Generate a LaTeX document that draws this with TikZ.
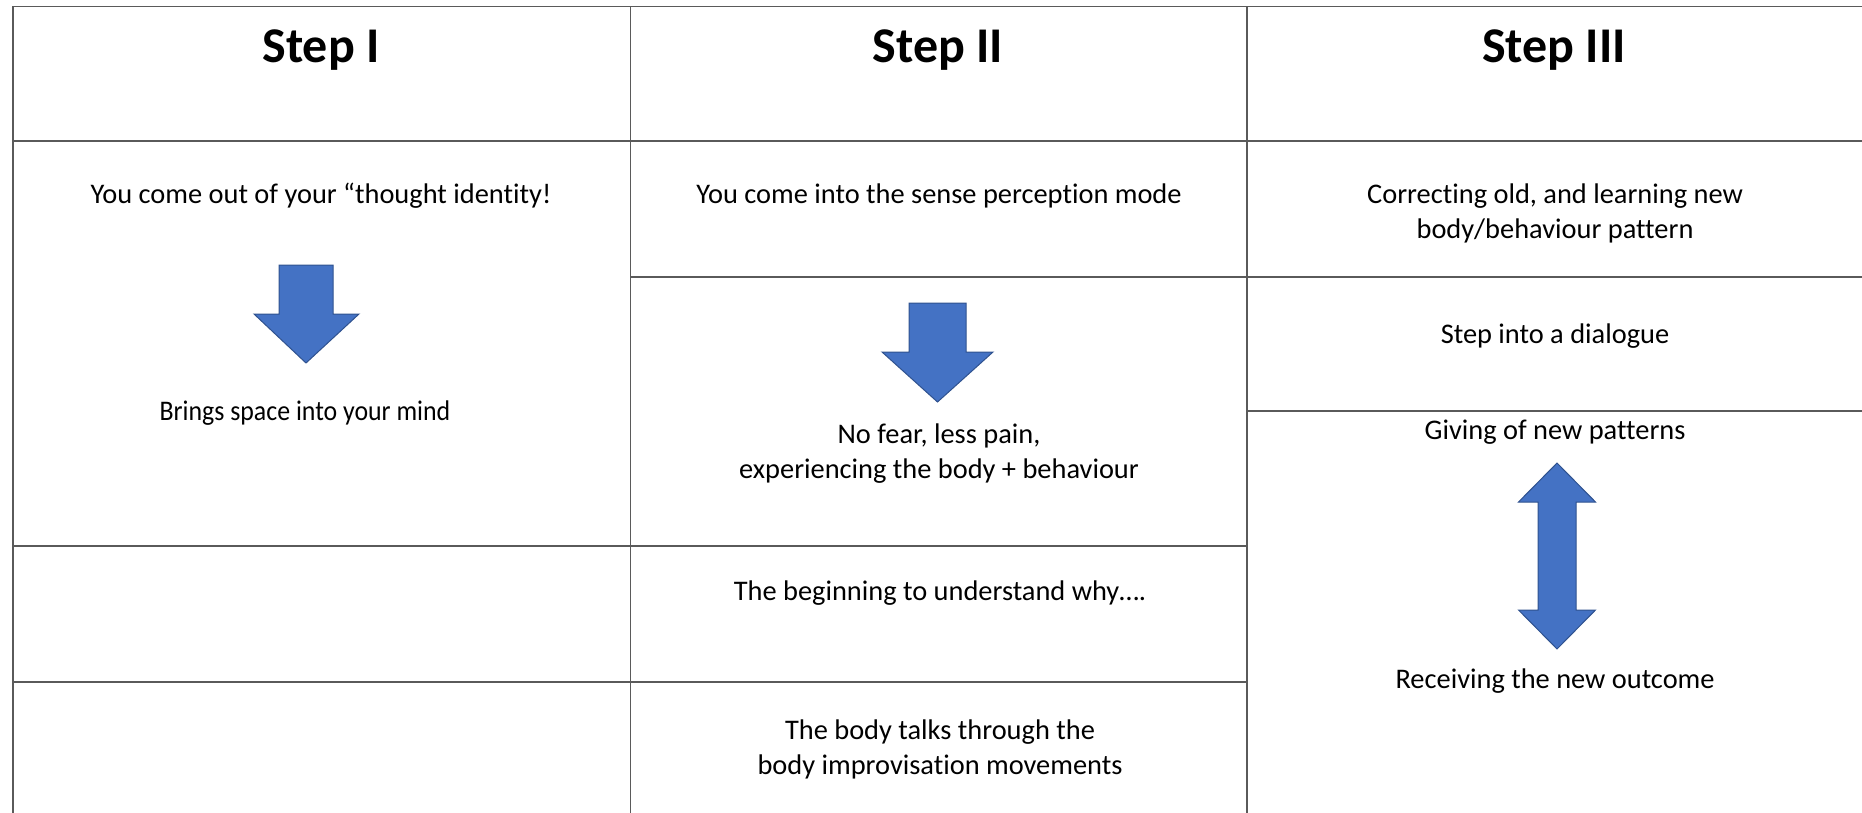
\documentclass[tikz,border=0pt]{standalone}
\usepackage{graphicx}
\usepackage{fontspec}
\setmainfont{Carlito}[Ligatures={NoCommon}]
\definecolor{gridline}{RGB}{90,90,90}
\definecolor{arrowfill}{HTML}{4472C4}
\definecolor{arrowedge}{HTML}{2F528F}
\tikzset{
  grid line/.style={draw=gridline, line width=0.8pt},
  head/.style={font=\fontsize{25}{30}\selectfont\bfseries, inner sep=0pt, anchor=base},
  body/.style={font=\fontsize{14.2}{17.5}\selectfont, inner sep=0pt, anchor=base, align=center},
  blockarrow/.style={fill=arrowfill, draw=arrowedge, line width=0.5pt, line join=miter}
}
\begin{document}
\begin{tikzpicture}[x=0.5pt, y=-0.5pt]
\useasboundingbox (0,0) rectangle (1862,813);
% grid
\draw[grid line] (13,6.5) -- (1862,6.5);
\draw[grid line] (13,141) -- (1862,141);
\draw[grid line] (13,6.5) -- (13,813);
\draw[grid line] (630.5,6.5) -- (630.5,813);
\draw[grid line] (1247,6.5) -- (1247,813);
\draw[grid line] (630.5,277) -- (1862,277);
\draw[grid line] (1247,411) -- (1862,411);
\draw[grid line] (13,546) -- (1247,546);
\draw[grid line] (13,682) -- (1247,682);
% headers
\node[head] (h1) at (321,63) {Step I};
\node[head] (h2) at (938,63) {Step II};
\node[head] (h3) at (1554,63) {Step III};
% column 1
\node[body] (c1a) at (321,203) {You come out of your “thought identity!};
\node[body] (c1b) at (305,420) {\scalebox{0.91}[1]{Brings space into your mind}};
\draw[blockarrow] (279,265) -- (333,265) -- (333,314) -- (359,314) -- (306,363) -- (254,314) -- (279,314) -- cycle;
% column 2
\node[body] (c2a) at (939,203) {You come into the sense perception mode};
\node[body] (c2b) at (939,478) {No fear, less pain,\\experiencing the body + behaviour};
\node[body] (c2c) at (940,600) {The beginning to understand why….};
\node[body] (c2d) at (940,774) {The body talks through the\\body improvisation movements};
\draw[blockarrow] (909,303) -- (966,303) -- (966,352) -- (993,352) -- (937.5,402) -- (882,352) -- (909,352) -- cycle;
% column 3
\node[body] (c3a) at (1555,238) {Correcting old, and learning new\\body/behaviour pattern};
\node[body] (c3b) at (1555,343) {Step into a dialogue};
\node[body] (c3c) at (1555,439) {Giving of new patterns};
\node[body] (c3d) at (1555,688) {Receiving the new outcome};
\draw[blockarrow] (1557,463) -- (1595.5,502) -- (1576,502) -- (1576,610) -- (1595.5,610) -- (1557,649) -- (1518.5,610) -- (1538,610) -- (1538,502) -- (1518.5,502) -- cycle;
\end{tikzpicture}
\end{document}
